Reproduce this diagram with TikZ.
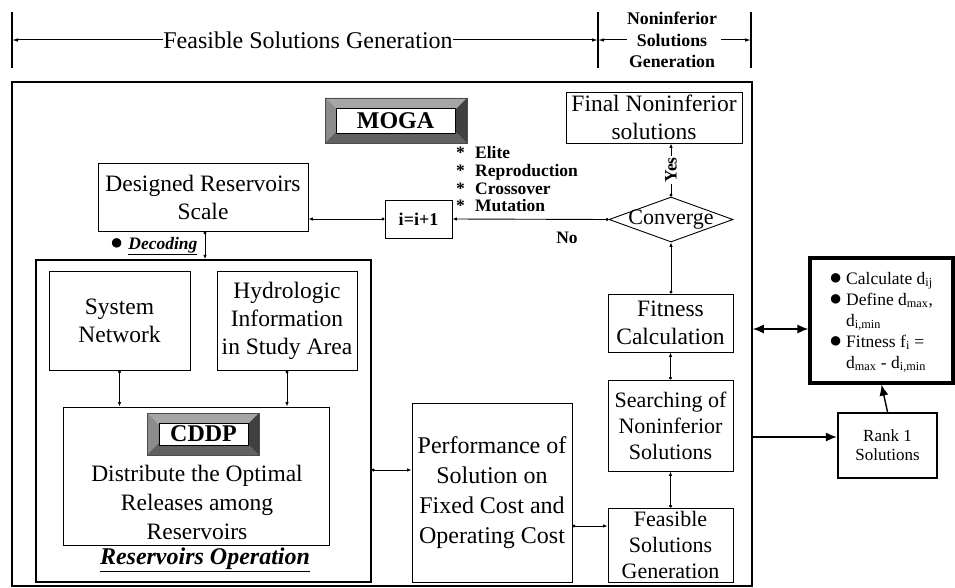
\documentclass[tikz,border=0pt]{standalone}
\usepackage{fontspec}
\setmainfont{Liberation Serif}
\usetikzlibrary{arrows.meta,shapes.geometric}
\newcommand\bevelbox[5]{% x1,y1,x2,y2,band
  \fill[black!50] (#1,#2) rectangle (#3,#4);
  \fill[black!35] (#1,#2) -- (#3,#2) -- ({#3-#5},{#2+#5}) -- ({#1+#5},{#2+#5}) -- cycle;
  \fill[black!45] (#1,#2) -- ({#1+#5},{#2+#5}) -- ({#1+#5},{#4-#5}) -- (#1,#4) -- cycle;
  \fill[black!62] (#1,#4) -- (#3,#4) -- ({#3-#5},{#4-#5}) -- ({#1+#5},{#4-#5}) -- cycle;
  \fill[black!75] (#3,#2) -- (#3,#4) -- ({#3-#5},{#4-#5}) -- ({#3-#5},{#2+#5}) -- cycle;
  \draw[black!70, line width=0.6pt] (#1,#2) rectangle (#3,#4);
}
\newcommand\bigbul{\raisebox{-0.3pt}{\scalebox{1.25}{●}}}
\begin{document}
\begin{tikzpicture}[x=1pt,y=-1pt,
  box/.style={draw, line width=0.9pt, inner sep=0pt, align=center, font=\fontsize{23.5}{28}\selectfont},
  sbox/.style={box, font=\fontsize{22}{26}\selectfont},
  flow/.style={line width=0.9pt, {Circle[length=3pt]}-{Latex[length=4.5pt,width=3.5pt]}},
  topar/.style={line width=1pt, -{Latex[length=6pt,width=3.5pt]}},
  bigar/.style={line width=1.4pt, -{Latex[length=11pt,width=9pt]}},
  lbl/.style={inner sep=0pt, font=\fontsize{17.5}{17.7}\selectfont\bfseries},
]
\useasboundingbox (0,0) rectangle (955,588);

% ---------- top bracket ----------
\coordinate (b1t) at (12,12); \coordinate (b1b) at (12,68);
\coordinate (b2t) at (598,12); \coordinate (b2b) at (598,68);
\coordinate (b3t) at (751,12); \coordinate (b3b) at (751,68);
\draw[line width=1.2pt] (b1t) -- (b1b) (b2t) -- (b2b) (b3t) -- (b3b);
\node[inner sep=0pt, font=\fontsize{24}{28}\selectfont] (fsg) at (308,40) {Feasible Solutions Generation};
\draw[topar] (fsg.west) -- (b1t |- fsg.west);
\draw[topar] (fsg.east) -- (b2t |- fsg.east);
\node[align=center, inner sep=0pt, font=\fontsize{17.8}{21.5}\selectfont\bfseries] (nsg) at (672,40) {Noninferior\\Solutions\\Generation};
\coordinate (nsl) at (627,40); \coordinate (nsr) at (721,40);
\draw[topar] (nsl) -- (b2t |- nsl);
\draw[topar] (nsr) -- (b3t |- nsr);

% ---------- outer frame ----------
\node[draw, line width=1.6pt, minimum width=740, minimum height=504, inner sep=0pt] (frame) at (382,334) {};

% ---------- MOGA ----------
\bevelbox{325}{98}{467}{143}{11}
\node[draw, fill=white, line width=0.8pt, minimum width=119, minimum height=25, inner sep=0pt, font=\fontsize{24}{28}\selectfont\bfseries] (moga) at (395.5,120.5) {MOGA};

% ---------- upper loop ----------
\node[box, minimum width=210, minimum height=68] (design) at (203,197) {Designed Reservoirs\\Scale};
\node[box, minimum width=67, minimum height=38, font=\fontsize{18}{20}\selectfont\bfseries] (inc) at (418.5,219) {i=i+1};
\node[box, minimum width=176, minimum height=51] (final) at (654,117.5) {Final Noninferior\\solutions};
\node[draw, diamond, line width=0.9pt, minimum width=124, minimum height=45, inner sep=0pt] (conv) at (671,219.5) {};
\node[inner sep=0pt, font=\fontsize{22}{26}\selectfont] (convt) at (conv.center) {Converge};

\node[lbl, align=left, anchor=north west] (ops) at (456,146.5)
  {\makebox[19pt][l]{*}Elite\\\makebox[19pt][l]{*}Reproduction\\\makebox[19pt][l]{*}Crossover\\\makebox[19pt][l]{*}Mutation};
\node[lbl] (no) at (567,238) {No};

\draw[flow] (conv.west) -- (inc.east);
\draw[flow] (inc.west) -- (design.east |- inc.west);
\draw[flow] (conv.north) -- (conv.north |- final.south)
  node[pos=0.5, rotate=90, fill=white, inner sep=1pt, font=\fontsize{17.5}{18}\selectfont\bfseries] (yes) {Yes};

% ---------- right column ----------
\node[box, minimum width=125, minimum height=58] (fit) at (670.5,323) {Fitness\\Calculation};
\node[sbox, minimum width=125, minimum height=91] (search) at (670.5,425.5) {Searching of\\Noninferior\\Solutions};
\node[sbox, minimum width=125, minimum height=74] (feas) at (670.5,545) {Feasible\\Solutions\\Generation};
\node[box, minimum width=160, minimum height=179, font=\fontsize{24}{30}\selectfont] (perf) at (492,492.5) {Performance of\\Solution on\\Fixed Cost and\\Operating Cost};

\draw[flow] (fit.north -| conv.south) -- (conv.south);
\draw[flow] (search.north) -- (fit.south);
\draw[flow] (feas.north) -- (search.south);
\coordinate (pf) at (0,526);
\draw[flow] (perf.east |- pf) -- (feas.west |- pf);

% ---------- reservoirs operation ----------
\node[draw, line width=1.5pt, minimum width=335, minimum height=322, inner sep=0pt] (resop) at (203.5,421) {};
\node[box, minimum width=141, minimum height=99] (sysnet) at (119.5,320.5) {System\\Network};
\node[box, minimum width=140, minimum height=99] (hydro) at (287,320.5) {Hydrologic\\Information\\in Study Area};
\node[box, minimum width=266, minimum height=138] (cddpbox) at (196,476) {};
\bevelbox{147}{413}{259}{455}{11}
\node[draw, fill=white, line width=0.8pt, minimum width=89, minimum height=22, inner sep=0pt, font=\fontsize{24}{28}\selectfont\bfseries] (cddp) at (203.5,434) {CDDP};
\node[align=center, inner sep=0pt, font=\fontsize{23.5}{29}\selectfont] (distr) at (197,502) {Distribute the Optimal\\Releases among\\Reservoirs};
\node[inner sep=0pt, font=\fontsize{24}{28}\selectfont\bfseries\itshape] (resoplbl) at (205,560) {\underline{Reservoirs Operation}};

\draw[flow] (design.south -| resoplbl.center) -- (resop.north -| resoplbl.center);
\node[inner sep=0pt, anchor=west, font=\fontsize{17.5}{20}\selectfont] (deco) at (110,246) {\bigbul\hspace{5pt}\textbf{\textit{\underline{Decoding}}}};
\draw[flow] (sysnet.south) -- (cddpbox.north -| sysnet.south);
\draw[flow] (hydro.south) -- (cddpbox.north -| hydro.south);
\coordinate (rp) at (0,470);
\draw[flow] (resop.east |- rp) -- (perf.west |- rp);

% ---------- outside right ----------
\node[draw, line width=3.2pt, minimum width=143, minimum height=125, inner sep=0pt] (calc) at (881.5,320.5) {};
\node[anchor=north west, inner sep=0pt, align=left, font=\fontsize{17.5}{21}\selectfont] (calct) at (829,272)
  {\makebox[17pt][l]{\bigbul}Calculate d\textsubscript{ij}\\
   \makebox[17pt][l]{\bigbul}Define d\textsubscript{max},\\
   \hspace*{17pt}d\textsubscript{i,min}\\
   \makebox[17pt][l]{\bigbul}Fitness f\textsubscript{i} =\\
   \hspace*{17pt}d\textsubscript{max} - d\textsubscript{i,min}};
\node[draw, line width=2.2pt, minimum width=99, minimum height=65, inner sep=0pt, align=center, font=\fontsize{17}{19}\selectfont] (rank) at (887.5,445.5) {Rank 1\\Solutions};

\coordinate (dc) at (0,329);
\draw[line width=1.4pt, {Latex[length=11pt,width=9pt]}-{Latex[length=11pt,width=9pt]}] (frame.east |- dc) -- (calc.west |- dc);
\coordinate (rk) at (0,437);
\draw[bigar] (frame.east |- rk) -- (rank.west |- rk);
\draw[bigar] (rank.north) -- (calc.south);
\end{tikzpicture}
\end{document}
